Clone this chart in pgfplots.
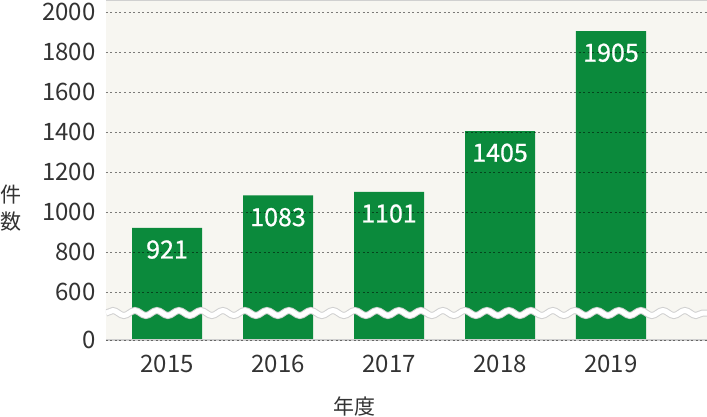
\documentclass[border=0pt]{standalone}
\usepackage{fontspec}
\setmainfont{Noto Sans CJK JP}
\newfontfamily\barfont{Noto Sans CJK JP}[FakeBold=0.8]
\usepackage{pgfplots}
\pgfplotsset{compat=1.18}
\usetikzlibrary{decorations.pathmorphing}
\definecolor{bargreen}{HTML}{0B8A3C}
\definecolor{bgbeige}{HTML}{F7F6F1}
\definecolor{txtgray}{HTML}{333333}
\definecolor{edgegray}{HTML}{D0D0D0}
\begin{document}
\begin{tikzpicture}[x=1pt,y=1pt]
\useasboundingbox (0,0) rectangle (707,416);
% the break in the scale: 0 is drawn at 360, values from 600 up are true
\begin{axis}[
    at={(106pt,76pt)}, anchor=south west,
    scale only axis, width=601pt, height=340pt,
    xmin=-0.55, xmax=4.865,
    ymin=360, ymax=2060,
    xtick={0,1,2,3,4},
    xticklabels={2015,2016,2017,2018,2019},
    ytick={360,600,800,1000,1200,1400,1600,1800,2000},
    yticklabels={0,600,800,1000,1200,1400,1600,1800,2000},
    /pgf/number format/assume math mode=true,
    /pgf/number format/1000 sep={},
    tick style={draw=none},
    ticklabel style={font=\fontsize{24}{24}\selectfont, text=txtgray},
    yticklabel style={xshift=-7pt},
    xticklabel style={yshift=-7pt},
    axis line style={draw=none},
    axis background/.style={fill=bgbeige},
    ymajorgrids,
    grid style={draw=black, opacity=0.5, line width=0.9pt, dash pattern=on 2pt off 2.5pt},
    axis on top,
    ybar, bar width=70pt,
    xlabel={年度},
    xlabel style={at={(rel axis cs:0.414,0)}, anchor=center, yshift=-66pt,
        font=\fontsize{21}{21}\selectfont, text=txtgray},
]
\addplot[fill=bargreen, draw=none,
    nodes near coords,
    nodes near coords align={below},
    nodes near coords style={anchor=north, yshift=-9pt,
        font=\barfont\fontsize{25}{25}\selectfont, text=white}]
    coordinates {(0,921) (1,1083) (2,1101) (3,1405) (4,1905)};
\draw[decorate, decoration={snake, segment length=22pt, amplitude=2.5pt},
    draw=edgegray, double=white, double distance=5pt, line width=1pt]
    (rel axis cs:0,0.0794) -- (rel axis cs:1,0.0794);
\draw[edgegray, line width=1.2pt] (rel axis cs:0,0) -- (rel axis cs:1,0);
\draw[edgegray, line width=1.2pt] (rel axis cs:0,1) -- (rel axis cs:1,1);
\end{axis}
\node[align=center, text=txtgray, font=\fontsize{21}{27}\selectfont] at (11,207.5) {件\\数};
\end{tikzpicture}
\end{document}
